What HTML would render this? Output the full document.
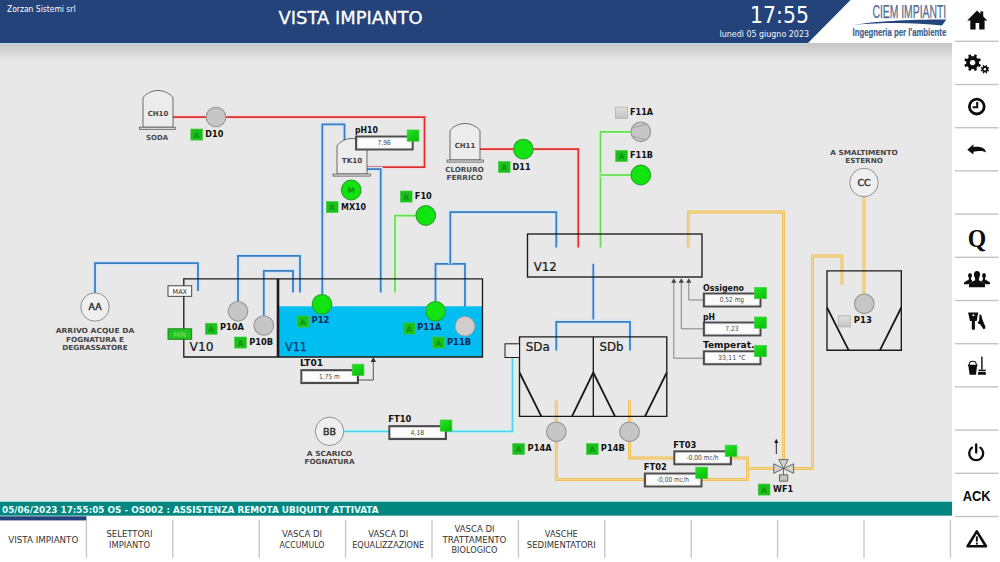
<!DOCTYPE html>
<html lang="it"><head><meta charset="utf-8"><title>VISTA IMPIANTO</title>
<style>
html,body{margin:0;padding:0;background:#e8e8e8;}
body{width:1000px;height:562px;overflow:hidden;position:relative;font-family:"DejaVu Sans","Liberation Sans",sans-serif;}
svg{position:absolute;left:0;top:0;display:block;}
svg text{font-family:"DejaVu Sans","Liberation Sans",sans-serif;}
</style></head><body>
<svg width="1000" height="562" viewBox="0 0 1000 562">
<defs>
<linearGradient id="strip" x1="0" y1="0" x2="0" y2="1"><stop offset="0" stop-color="#c5c5c5"/><stop offset="0.35" stop-color="#d2d2d2"/><stop offset="0.7" stop-color="#dfdfdf"/><stop offset="1" stop-color="#e8e8e8"/></linearGradient>
<linearGradient id="gg" x1="0" y1="0" x2="0.6" y2="1"><stop offset="0" stop-color="#1fe61f"/><stop offset="1" stop-color="#0cc20c"/></linearGradient>
<linearGradient id="gsq" x1="0" y1="0" x2="0" y2="1"><stop offset="0" stop-color="#e0e0e0"/><stop offset="1" stop-color="#c4c4c4"/></linearGradient>
</defs>
<rect width="1000" height="562" fill="#e8e8e8"/>

<rect x="0" y="43" width="952" height="19" fill="url(#strip)"/>
<rect x="800" y="0" width="200" height="43" fill="#fff"/>
<polygon points="0,0 850.5,0 808,43 0,43" fill="#24437a"/>
<rect x="0" y="43" width="808" height="1" fill="#c9d6e6"/>
<text x="7" y="12" font-size="9" fill="#fff" textLength="68.5" lengthAdjust="spacingAndGlyphs">Zorzan Sistemi srl</text>
<text x="278.5" y="24.3" font-size="17.8" fill="#fff" textLength="144" lengthAdjust="spacingAndGlyphs" stroke="#fff" stroke-width="0.3">VISTA IMPIANTO</text>
<text x="750" y="22.7" font-size="23.5" fill="#fff" textLength="59" lengthAdjust="spacingAndGlyphs">17:55</text>
<text x="809" y="37.3" font-size="8.2" fill="#f4f6fa" text-anchor="end" textLength="89.5" lengthAdjust="spacingAndGlyphs">lunedì 05 giugno 2023</text>
<text x="872.4" y="17.5" font-size="18.2" fill="#54698a" textLength="73.8" lengthAdjust="spacingAndGlyphs" style="font-family:'Liberation Sans',sans-serif" stroke="#54698a" stroke-width="0.25">CIEM IMPIANTI</text>
<path d="M854,24.8 C875,21.3 905,19.4 946.3,19.4 L942,25.6 C915,22.3 885,22.3 854,24.8 Z" fill="#24467c"/>
<text x="852.6" y="36" font-size="10.9" fill="#3b5f90" font-weight="bold" textLength="93.6" lengthAdjust="spacingAndGlyphs" style="font-family:'Liberation Sans',sans-serif" stroke="#3b5f90" stroke-width="0.2">Ingegneria per l&#x27;ambiente</text>
<path d="M173,117 H424.5 V167 H367" fill="none" stroke="#f8dcdc" stroke-width="4.4" stroke-linejoin="miter"/>
<path d="M173,117 H424.5 V167 H367" fill="none" stroke="#dc3030" stroke-width="1.75" stroke-linejoin="miter"/>
<path d="M480,149.2 H578.3 V247.5" fill="none" stroke="#f8dcdc" stroke-width="4.4" stroke-linejoin="miter"/>
<path d="M480,149.2 H578.3 V247.5" fill="none" stroke="#dc3030" stroke-width="1.75" stroke-linejoin="miter"/>
<path d="M322.3,295 V124.3 H344.5 V140" fill="none" stroke="#d3e6f9" stroke-width="4.4" stroke-linejoin="miter"/>
<path d="M322.3,295 V124.3 H344.5 V140" fill="none" stroke="#3a7dbe" stroke-width="1.75" stroke-linejoin="miter"/>
<path d="M367,169 H380.7 V292.5" fill="none" stroke="#d3e6f9" stroke-width="4.4" stroke-linejoin="miter"/>
<path d="M367,169 H380.7 V292.5" fill="none" stroke="#3a7dbe" stroke-width="1.75" stroke-linejoin="miter"/>
<path d="M95,293 V263.2 H198 V291" fill="none" stroke="#d3e6f9" stroke-width="4.4" stroke-linejoin="miter"/>
<path d="M95,293 V263.2 H198 V291" fill="none" stroke="#3a7dbe" stroke-width="1.75" stroke-linejoin="miter"/>
<path d="M238,302 V255.8 H300 V292.5" fill="none" stroke="#d3e6f9" stroke-width="4.4" stroke-linejoin="miter"/>
<path d="M238,302 V255.8 H300 V292.5" fill="none" stroke="#3a7dbe" stroke-width="1.75" stroke-linejoin="miter"/>
<path d="M263.8,316 V270.8 H293 V292.5" fill="none" stroke="#d3e6f9" stroke-width="4.4" stroke-linejoin="miter"/>
<path d="M263.8,316 V270.8 H293 V292.5" fill="none" stroke="#3a7dbe" stroke-width="1.75" stroke-linejoin="miter"/>
<path d="M435.5,302 V263.8 H465 V317" fill="none" stroke="#d3e6f9" stroke-width="4.4" stroke-linejoin="miter"/>
<path d="M435.5,302 V263.8 H465 V317" fill="none" stroke="#3a7dbe" stroke-width="1.75" stroke-linejoin="miter"/>
<path d="M450.3,263.8 V212 H556.3 V247.5" fill="none" stroke="#d3e6f9" stroke-width="4.4" stroke-linejoin="miter"/>
<path d="M450.3,263.8 V212 H556.3 V247.5" fill="none" stroke="#3a7dbe" stroke-width="1.75" stroke-linejoin="miter"/>
<path d="M593.3,263.8 V321.8" fill="none" stroke="#d3e6f9" stroke-width="4.4" stroke-linejoin="miter"/>
<path d="M593.3,263.8 V321.8" fill="none" stroke="#3a7dbe" stroke-width="1.75" stroke-linejoin="miter"/>
<path d="M556.3,350.5 V321.8 H630 V350.5" fill="none" stroke="#d3e6f9" stroke-width="4.4" stroke-linejoin="miter"/>
<path d="M556.3,350.5 V321.8 H630 V350.5" fill="none" stroke="#3a7dbe" stroke-width="1.75" stroke-linejoin="miter"/>
<path d="M416,215.5 H395 V292.5" fill="none" stroke="#dcf4d8" stroke-width="4.4" stroke-linejoin="miter"/>
<path d="M416,215.5 H395 V292.5" fill="none" stroke="#68dc56" stroke-width="1.75" stroke-linejoin="miter"/>
<path d="M631,131.8 H600.5 V247.5" fill="none" stroke="#dcf4d8" stroke-width="4.4" stroke-linejoin="miter"/>
<path d="M631,131.8 H600.5 V247.5" fill="none" stroke="#68dc56" stroke-width="1.75" stroke-linejoin="miter"/>
<path d="M631,175 H600.5" fill="none" stroke="#dcf4d8" stroke-width="4.4" stroke-linejoin="miter"/>
<path d="M631,175 H600.5" fill="none" stroke="#68dc56" stroke-width="1.75" stroke-linejoin="miter"/>
<path d="M688.3,247.5 V212 H783.5 V459.6" fill="none" stroke="#f0c056" stroke-width="2.9" stroke-linejoin="miter"/>
<path d="M688.3,247.5 V212 H783.5 V459.6" fill="none" stroke="#f6da94" stroke-width="1.1" stroke-linejoin="miter"/>
<path d="M864,196.5 V294" fill="none" stroke="#f0c056" stroke-width="2.9" stroke-linejoin="miter"/>
<path d="M864,196.5 V294" fill="none" stroke="#f6da94" stroke-width="1.1" stroke-linejoin="miter"/>
<path d="M842,285 V256 H812.5 V468.5 H793.6" fill="none" stroke="#f0c056" stroke-width="2.9" stroke-linejoin="miter"/>
<path d="M842,285 V256 H812.5 V468.5 H793.6" fill="none" stroke="#f6da94" stroke-width="1.1" stroke-linejoin="miter"/>
<path d="M556.3,400.5 V422" fill="none" stroke="#f0c056" stroke-width="2.9" stroke-linejoin="miter"/>
<path d="M556.3,400.5 V422" fill="none" stroke="#f6da94" stroke-width="1.1" stroke-linejoin="miter"/>
<path d="M629.5,400.5 V422" fill="none" stroke="#f0c056" stroke-width="2.9" stroke-linejoin="miter"/>
<path d="M629.5,400.5 V422" fill="none" stroke="#f6da94" stroke-width="1.1" stroke-linejoin="miter"/>
<path d="M556.3,441.5 V479.5 H747.5 V458 H629.5 V441.5" fill="none" stroke="#f0c056" stroke-width="2.9" stroke-linejoin="miter"/>
<path d="M556.3,441.5 V479.5 H747.5 V458 H629.5 V441.5" fill="none" stroke="#f6da94" stroke-width="1.1" stroke-linejoin="miter"/>
<path d="M747.5,468.5 H773.8" fill="none" stroke="#f0c056" stroke-width="2.9" stroke-linejoin="miter"/>
<path d="M747.5,468.5 H773.8" fill="none" stroke="#f6da94" stroke-width="1.1" stroke-linejoin="miter"/>
<path d="M343.8,431.3 H512.5 V357.5" fill="none" stroke="#d6f2f6" stroke-width="4.4" stroke-linejoin="miter"/>
<path d="M343.8,431.3 H512.5 V357.5" fill="none" stroke="#52d6e6" stroke-width="1.8" stroke-linejoin="miter"/>
<path d="M143,127.2 L143,97.5 A19.5,19.5 0 0 1 173,97.5 L173,127.2 Z" fill="#ececec" stroke="#4a4a4a" stroke-width="0.8"/>
<rect x="139.5" y="127.2" width="36.0" height="2.1" fill="#ddd" stroke="#4a4a4a" stroke-width="0.7"/>
<text x="158.0" y="115.64999999999999" font-size="7" fill="#444" font-weight="bold" text-anchor="middle" textLength="20.5" lengthAdjust="spacingAndGlyphs">CH10</text>
<text x="157" y="139.7" font-size="7" fill="#4a4a4a" font-weight="bold" text-anchor="middle" textLength="22" lengthAdjust="spacingAndGlyphs">SODA</text>
<path d="M337,174 L337,145.5 A19.5,19.5 0 0 1 367,145.5 L367,174 Z" fill="#ececec" stroke="#4a4a4a" stroke-width="0.8"/>
<rect x="333" y="174" width="37.5" height="2.1" fill="#ddd" stroke="#4a4a4a" stroke-width="0.7"/>
<text x="352.0" y="163.05" font-size="7" fill="#444" font-weight="bold" text-anchor="middle" textLength="20.5" lengthAdjust="spacingAndGlyphs">TK10</text>
<path d="M450,160 L450,130.5 A19.5,19.5 0 0 1 480,130.5 L480,160 Z" fill="#ececec" stroke="#4a4a4a" stroke-width="0.8"/>
<rect x="447" y="160" width="36.5" height="2.1" fill="#ddd" stroke="#4a4a4a" stroke-width="0.7"/>
<text x="465.0" y="147.65" font-size="7" fill="#444" font-weight="bold" text-anchor="middle" textLength="20.5" lengthAdjust="spacingAndGlyphs">CH11</text>
<text x="464.5" y="171.7" font-size="7" fill="#4a4a4a" font-weight="bold" text-anchor="middle" textLength="38.5" lengthAdjust="spacingAndGlyphs">CLORURO</text>
<text x="464.5" y="180.2" font-size="7" fill="#4a4a4a" font-weight="bold" text-anchor="middle" textLength="36" lengthAdjust="spacingAndGlyphs">FERRICO</text>
<rect x="279" y="306.3" width="203" height="50.5" fill="#00bdf2"/>
<path d="M183.8,357 V278.8 H482.5 V357 Z" fill="none" stroke="#1a1a1a" stroke-width="1.3"/>
<path d="M278,278.8 V357" stroke="#1a1a1a" stroke-width="2.6" fill="none"/>
<text x="189.5" y="351" font-size="12" fill="#151515" textLength="24" lengthAdjust="spacingAndGlyphs" stroke="#151515" stroke-width="0.2">V10</text>
<text x="285" y="351" font-size="12" fill="#0a3a72" textLength="22" lengthAdjust="spacingAndGlyphs" stroke="#0a3a72" stroke-width="0.25">V11</text>
<rect x="168" y="285.8" width="23.7" height="10.5" fill="#fafafa" stroke="#333" stroke-width="0.9"/>
<text x="179.8" y="293.6" font-size="6.5" fill="#222" text-anchor="middle">MAX</text>
<rect x="168" y="328.8" width="23.7" height="10.5" fill="#22c422" stroke="#157a15" stroke-width="0.9"/>
<text x="179.8" y="336.6" font-size="6.5" fill="#7be87b" text-anchor="middle">MIN</text>
<rect x="527.5" y="234" width="174.5" height="43" fill="none" stroke="#1a1a1a" stroke-width="1.35"/>
<text x="533.8" y="270.8" font-size="12" fill="#151515" textLength="23" lengthAdjust="spacingAndGlyphs" stroke="#151515" stroke-width="0.2">V12</text>
<path d="M673.8,282 V358.2 H703.5" fill="none" stroke="#777" stroke-width="0.9"/>
<path d="M673.8,278.3 l2.6,4.4 h-5.2 z" fill="#444"/>
<path d="M681.3,282 V328.8 H703.5" fill="none" stroke="#777" stroke-width="0.9"/>
<path d="M681.3,278.3 l2.6,4.4 h-5.2 z" fill="#444"/>
<path d="M688.8,282 V300 H703.5" fill="none" stroke="#777" stroke-width="0.9"/>
<path d="M688.8,278.3 l2.6,4.4 h-5.2 z" fill="#444"/>
<path d="M519.5,336.8 H666.8 V416.3 H519.5 Z M593.3,336.8 V416.3" fill="none" stroke="#1a1a1a" stroke-width="1.35"/>
<path d="M519.5,372.5 L541.3,416.3 M593.3,372.5 L572,416.3 M593.3,372.5 L615,416.3 M666.8,372.5 L645,416.3" fill="none" stroke="#1a1a1a" stroke-width="1.8"/>
<rect x="505" y="343.8" width="14.5" height="13.7" fill="#ebebeb" stroke="#1a1a1a" stroke-width="1"/>
<text x="525.8" y="351.3" font-size="12" fill="#151515" textLength="24" lengthAdjust="spacingAndGlyphs" stroke="#151515" stroke-width="0.2">SDa</text>
<text x="599.5" y="351.3" font-size="12" fill="#151515" textLength="24" lengthAdjust="spacingAndGlyphs" stroke="#151515" stroke-width="0.2">SDb</text>
<path d="M827,270.8 H901.3 V350.2 H827 Z" fill="none" stroke="#1a1a1a" stroke-width="1.35"/>
<path d="M827,307.5 L848.6,350.2 M901.3,307.5 L880,350.2" fill="none" stroke="#1a1a1a" stroke-width="1.8"/>
<circle cx="95" cy="307" r="14.2" fill="#efefef" stroke="#777" stroke-width="0.8"/>
<text x="95" y="310.2" font-size="8.6" fill="#2e2e2e" text-anchor="middle" textLength="13" lengthAdjust="spacingAndGlyphs" stroke="#2e2e2e" stroke-width="0.4">AA</text>
<circle cx="329.5" cy="431.3" r="14.2" fill="#efefef" stroke="#777" stroke-width="0.8"/>
<text x="329.5" y="434.5" font-size="8.6" fill="#2e2e2e" text-anchor="middle" textLength="13" lengthAdjust="spacingAndGlyphs" stroke="#2e2e2e" stroke-width="0.4">BB</text>
<circle cx="864" cy="182.5" r="14.2" fill="#efefef" stroke="#777" stroke-width="0.8"/>
<text x="864" y="185.7" font-size="8.6" fill="#2e2e2e" text-anchor="middle" textLength="13" lengthAdjust="spacingAndGlyphs" stroke="#2e2e2e" stroke-width="0.4">CC</text>
<text x="95" y="333.3" font-size="7" fill="#444" font-weight="bold" text-anchor="middle" textLength="78.5" lengthAdjust="spacingAndGlyphs">ARRIVO ACQUE DA</text>
<text x="95" y="341.7" font-size="7" fill="#444" font-weight="bold" text-anchor="middle" textLength="58" lengthAdjust="spacingAndGlyphs">FOGNATURA E</text>
<text x="95" y="350.1" font-size="7" fill="#444" font-weight="bold" text-anchor="middle" textLength="65.5" lengthAdjust="spacingAndGlyphs">DEGRASSATORE</text>
<text x="329.5" y="455.6" font-size="7" fill="#444" font-weight="bold" text-anchor="middle" textLength="45.5" lengthAdjust="spacingAndGlyphs">A SCARICO</text>
<text x="329.5" y="463.90000000000003" font-size="7" fill="#444" font-weight="bold" text-anchor="middle" textLength="50" lengthAdjust="spacingAndGlyphs">FOGNATURA</text>
<text x="864" y="155.0" font-size="7" fill="#444" font-weight="bold" text-anchor="middle" textLength="67.5" lengthAdjust="spacingAndGlyphs">A SMALTIMENTO</text>
<text x="864" y="163.2" font-size="7" fill="#444" font-weight="bold" text-anchor="middle" textLength="37.5" lengthAdjust="spacingAndGlyphs">ESTERNO</text>
<circle cx="216" cy="117" r="9.8" fill="#c6c6c6" stroke="#959595" stroke-width="1.1"/>
<circle cx="523.3" cy="149.2" r="9.8" fill="#12e412" stroke="#25a825" stroke-width="1.2"/>
<circle cx="351.2" cy="190" r="9.8" fill="#12e412" stroke="#25a825" stroke-width="1.2"/>
<text x="351.2" y="193" font-size="7.5" fill="#0f8f0f" font-weight="bold" text-anchor="middle">M</text>
<circle cx="425.8" cy="215.5" r="9.8" fill="#12e412" stroke="#25a825" stroke-width="1.2"/>
<circle cx="640.8" cy="131.8" r="9.8" fill="#c6c6c6" stroke="#959595" stroke-width="1.1"/>
<path d="M632.5,128 L646.5,123.8 M632.5,136 L646.5,140" stroke="#999" stroke-width="0.8" fill="none"/>
<circle cx="640.8" cy="175" r="9.8" fill="#12e412" stroke="#25a825" stroke-width="1.2"/>
<circle cx="238" cy="311.3" r="9.8" fill="#c6c6c6" stroke="#959595" stroke-width="1.1"/>
<circle cx="263.8" cy="325.5" r="9.8" fill="#c6c6c6" stroke="#959595" stroke-width="1.1"/>
<circle cx="322" cy="304.3" r="9.8" fill="#12e412" stroke="#25a825" stroke-width="1.2"/>
<circle cx="435.5" cy="311.3" r="9.8" fill="#12e412" stroke="#25a825" stroke-width="1.2"/>
<circle cx="465" cy="326.3" r="9.8" fill="#d2cccc" stroke="#a8a0a0" stroke-width="1"/>
<circle cx="864.3" cy="303.8" r="9.8" fill="#c6c6c6" stroke="#959595" stroke-width="1.1"/>
<circle cx="556.3" cy="431.8" r="9.8" fill="#c6c6c6" stroke="#959595" stroke-width="1.1"/>
<circle cx="629.5" cy="431.8" r="9.8" fill="#c6c6c6" stroke="#959595" stroke-width="1.1"/>
<rect x="190.8" y="129" width="11.8" height="11.1" fill="#1cc01c" stroke="#3fd03f" stroke-width="0.6"/>
<text x="196.70000000000002" y="137.5" font-size="7.4" font-weight="bold" fill="#0f920f" text-anchor="middle">A</text>
<text x="205.3" y="137" font-size="8.2" fill="#111" font-weight="bold" textLength="18" lengthAdjust="spacingAndGlyphs">D10</text>
<rect x="326.3" y="201.5" width="11.8" height="11.1" fill="#1cc01c" stroke="#3fd03f" stroke-width="0.6"/>
<text x="332.2" y="210.0" font-size="7.4" font-weight="bold" fill="#0f920f" text-anchor="middle">A</text>
<text x="341" y="210" font-size="8.2" fill="#111" font-weight="bold" textLength="25" lengthAdjust="spacingAndGlyphs">MX10</text>
<rect x="400.3" y="191" width="11.8" height="11.1" fill="#1cc01c" stroke="#3fd03f" stroke-width="0.6"/>
<text x="406.2" y="199.5" font-size="7.4" font-weight="bold" fill="#0f920f" text-anchor="middle">A</text>
<text x="414.8" y="199.3" font-size="8.2" fill="#111" font-weight="bold" textLength="17" lengthAdjust="spacingAndGlyphs">F10</text>
<rect x="498.3" y="161.5" width="11.8" height="11.1" fill="#1cc01c" stroke="#3fd03f" stroke-width="0.6"/>
<text x="504.2" y="170.0" font-size="7.4" font-weight="bold" fill="#0f920f" text-anchor="middle">A</text>
<text x="512.6" y="169.5" font-size="8.2" fill="#111" font-weight="bold" textLength="18" lengthAdjust="spacingAndGlyphs">D11</text>
<rect x="615.6" y="107.2" width="11.8" height="11.1" fill="url(#gsq)" stroke="#b0b0b0" stroke-width="0.8"/>
<text x="630" y="114.8" font-size="8.2" fill="#111" font-weight="bold" textLength="23" lengthAdjust="spacingAndGlyphs">F11A</text>
<rect x="615.6" y="150.5" width="11.8" height="11.1" fill="#1cc01c" stroke="#3fd03f" stroke-width="0.6"/>
<text x="621.5" y="159.0" font-size="7.4" font-weight="bold" fill="#0f920f" text-anchor="middle">A</text>
<text x="630" y="158.2" font-size="8.2" fill="#111" font-weight="bold" textLength="23" lengthAdjust="spacingAndGlyphs">F11B</text>
<rect x="205.3" y="323.2" width="11.8" height="11.1" fill="#1cc01c" stroke="#3fd03f" stroke-width="0.6"/>
<text x="211.20000000000002" y="331.7" font-size="7.4" font-weight="bold" fill="#0f920f" text-anchor="middle">A</text>
<text x="220" y="330.3" font-size="8.2" fill="#111" font-weight="bold" textLength="24" lengthAdjust="spacingAndGlyphs">P10A</text>
<rect x="234.6" y="337" width="11.8" height="11.1" fill="#1cc01c" stroke="#3fd03f" stroke-width="0.6"/>
<text x="240.5" y="345.5" font-size="7.4" font-weight="bold" fill="#0f920f" text-anchor="middle">A</text>
<text x="249.2" y="344.7" font-size="8.2" fill="#111" font-weight="bold" textLength="24" lengthAdjust="spacingAndGlyphs">P10B</text>
<rect x="297" y="316" width="11.8" height="11.1" fill="#1cc01c" stroke="#3fd03f" stroke-width="0.6"/>
<text x="302.9" y="324.5" font-size="7.4" font-weight="bold" fill="#0f920f" text-anchor="middle">A</text>
<text x="311.5" y="323.3" font-size="8.2" fill="#0a2a50" font-weight="bold" textLength="18" lengthAdjust="spacingAndGlyphs">P12</text>
<rect x="403.2" y="323" width="11.8" height="11.1" fill="#1cc01c" stroke="#3fd03f" stroke-width="0.6"/>
<text x="409.09999999999997" y="331.5" font-size="7.4" font-weight="bold" fill="#0f920f" text-anchor="middle">A</text>
<text x="417.3" y="330.3" font-size="8.2" fill="#0a2a50" font-weight="bold" textLength="24" lengthAdjust="spacingAndGlyphs">P11A</text>
<rect x="432.6" y="337" width="11.8" height="11.1" fill="#1cc01c" stroke="#3fd03f" stroke-width="0.6"/>
<text x="438.5" y="345.5" font-size="7.4" font-weight="bold" fill="#0f920f" text-anchor="middle">A</text>
<text x="447" y="344.7" font-size="8.2" fill="#0a2a50" font-weight="bold" textLength="24" lengthAdjust="spacingAndGlyphs">P11B</text>
<rect x="838.4" y="315.8" width="11.8" height="11.1" fill="url(#gsq)" stroke="#b0b0b0" stroke-width="0.8"/>
<text x="853.8" y="323.2" font-size="8.2" fill="#111" font-weight="bold" textLength="18" lengthAdjust="spacingAndGlyphs">P13</text>
<rect x="512.7" y="443.5" width="11.8" height="11.1" fill="#1cc01c" stroke="#3fd03f" stroke-width="0.6"/>
<text x="518.6" y="452.0" font-size="7.4" font-weight="bold" fill="#0f920f" text-anchor="middle">A</text>
<text x="527.6" y="451" font-size="8.2" fill="#111" font-weight="bold" textLength="24" lengthAdjust="spacingAndGlyphs">P14A</text>
<rect x="586.4" y="443.5" width="11.8" height="11.1" fill="#1cc01c" stroke="#3fd03f" stroke-width="0.6"/>
<text x="592.3" y="452.0" font-size="7.4" font-weight="bold" fill="#0f920f" text-anchor="middle">A</text>
<text x="600.8" y="451" font-size="8.2" fill="#111" font-weight="bold" textLength="24" lengthAdjust="spacingAndGlyphs">P14B</text>
<rect x="758.2" y="484" width="11.8" height="11.1" fill="#1cc01c" stroke="#3fd03f" stroke-width="0.6"/>
<text x="764.1" y="492.5" font-size="7.4" font-weight="bold" fill="#0f920f" text-anchor="middle">A</text>
<text x="773" y="491.5" font-size="8.2" fill="#111" font-weight="bold" textLength="20" lengthAdjust="spacingAndGlyphs">WF1</text>
<text x="355" y="133.2" font-size="8.6" fill="#111" font-weight="bold" textLength="23" lengthAdjust="spacingAndGlyphs">pH10</text>
<rect x="356.1" y="136.6" width="56.5" height="12.8" fill="#fbfbfb" stroke="#4a4a4a" stroke-width="2.1"/>
<rect x="357.4" y="137.9" width="53.9" height="10.2" fill="none" stroke="#d4d4d4" stroke-width="0.6"/>
<text x="384.1" y="145.4" font-size="7" fill="#484848" text-anchor="middle" textLength="13.3" lengthAdjust="spacingAndGlyphs">7,96</text>
<rect x="407.2" y="130" width="11.7" height="11.2" fill="url(#gg)" stroke="#3ec83e" stroke-width="0.7"/>
<text x="300" y="366.3" font-size="8.6" fill="#111" font-weight="bold" textLength="23" lengthAdjust="spacingAndGlyphs">LT01</text>
<rect x="301.4" y="370.2" width="56.5" height="12.8" fill="#fbfbfb" stroke="#4a4a4a" stroke-width="2.1"/>
<rect x="302.7" y="371.5" width="53.9" height="10.2" fill="none" stroke="#d4d4d4" stroke-width="0.6"/>
<text x="329.4" y="379.0" font-size="7" fill="#484848" text-anchor="middle" textLength="20.6" lengthAdjust="spacingAndGlyphs">1,75 m</text>
<rect x="352.2" y="364.2" width="11.7" height="11.2" fill="url(#gg)" stroke="#3ec83e" stroke-width="0.7"/>
<text x="388.3" y="422" font-size="8.6" fill="#111" font-weight="bold" textLength="23" lengthAdjust="spacingAndGlyphs">FT10</text>
<rect x="389.4" y="426.2" width="56.5" height="12.8" fill="#fbfbfb" stroke="#4a4a4a" stroke-width="2.1"/>
<rect x="390.7" y="427.5" width="53.9" height="10.2" fill="none" stroke="#d4d4d4" stroke-width="0.6"/>
<text x="417.4" y="435.0" font-size="7" fill="#484848" text-anchor="middle" textLength="13.6" lengthAdjust="spacingAndGlyphs">4,18</text>
<rect x="440.2" y="420" width="11.7" height="11.2" fill="url(#gg)" stroke="#3ec83e" stroke-width="0.7"/>
<text x="703" y="290.6" font-size="8.6" fill="#111" font-weight="bold" textLength="41" lengthAdjust="spacingAndGlyphs">Ossigeno</text>
<rect x="703.9" y="293.6" width="56.5" height="12.8" fill="#fbfbfb" stroke="#4a4a4a" stroke-width="2.1"/>
<rect x="705.2" y="294.9" width="53.9" height="10.2" fill="none" stroke="#d4d4d4" stroke-width="0.6"/>
<text x="731.9" y="302.4" font-size="7" fill="#484848" text-anchor="middle" textLength="24.3" lengthAdjust="spacingAndGlyphs">0,52 mg</text>
<rect x="754.6" y="287.5" width="11.7" height="11.2" fill="url(#gg)" stroke="#3ec83e" stroke-width="0.7"/>
<text x="703" y="319.6" font-size="8.6" fill="#111" font-weight="bold" textLength="12" lengthAdjust="spacingAndGlyphs">pH</text>
<rect x="703.9" y="322.6" width="56.5" height="12.8" fill="#fbfbfb" stroke="#4a4a4a" stroke-width="2.1"/>
<rect x="705.2" y="323.9" width="53.9" height="10.2" fill="none" stroke="#d4d4d4" stroke-width="0.6"/>
<text x="731.9" y="331.4" font-size="7" fill="#484848" text-anchor="middle" textLength="13.3" lengthAdjust="spacingAndGlyphs">7,23</text>
<rect x="754.6" y="317" width="11.7" height="11.2" fill="url(#gg)" stroke="#3ec83e" stroke-width="0.7"/>
<text x="703" y="348.3" font-size="8.6" fill="#111" font-weight="bold" textLength="51.5" lengthAdjust="spacingAndGlyphs">Temperat.</text>
<rect x="703.9" y="351.4" width="56.5" height="12.8" fill="#fbfbfb" stroke="#4a4a4a" stroke-width="2.1"/>
<rect x="705.2" y="352.7" width="53.9" height="10.2" fill="none" stroke="#d4d4d4" stroke-width="0.6"/>
<text x="731.9" y="360.2" font-size="7" fill="#484848" text-anchor="middle" textLength="27.7" lengthAdjust="spacingAndGlyphs">33,11 °C</text>
<rect x="754.6" y="345.5" width="11.7" height="11.2" fill="url(#gg)" stroke="#3ec83e" stroke-width="0.7"/>
<text x="673.3" y="447.6" font-size="8.6" fill="#111" font-weight="bold" textLength="23" lengthAdjust="spacingAndGlyphs">FT03</text>
<rect x="674.4" y="451.4" width="56.5" height="12.8" fill="#fbfbfb" stroke="#4a4a4a" stroke-width="2.1"/>
<rect x="675.7" y="452.7" width="53.9" height="10.2" fill="none" stroke="#d4d4d4" stroke-width="0.6"/>
<text x="702.4" y="460.2" font-size="7" fill="#484848" text-anchor="middle" textLength="32" lengthAdjust="spacingAndGlyphs">-0,00 mc/h</text>
<rect x="725.2" y="445.2" width="11.7" height="11.2" fill="url(#gg)" stroke="#3ec83e" stroke-width="0.7"/>
<text x="643.8" y="470.2" font-size="8.6" fill="#111" font-weight="bold" textLength="23" lengthAdjust="spacingAndGlyphs">FT02</text>
<rect x="644.9" y="473.6" width="56.5" height="12.8" fill="#fbfbfb" stroke="#4a4a4a" stroke-width="2.1"/>
<rect x="646.2" y="474.9" width="53.9" height="10.2" fill="none" stroke="#d4d4d4" stroke-width="0.6"/>
<text x="672.9" y="482.4" font-size="7" fill="#484848" text-anchor="middle" textLength="32" lengthAdjust="spacingAndGlyphs">-0,00 mc/h</text>
<rect x="695.8" y="467.2" width="11.7" height="11.2" fill="url(#gg)" stroke="#3ec83e" stroke-width="0.7"/>
<path d="M358.8,380 H373.3 V361.5" fill="none" stroke="#444" stroke-width="0.9"/>
<path d="M373.3,357.3 l2.8,4.6 h-5.6 z" fill="#333"/>
<g stroke="#5a5a5a" stroke-width="0.9" fill="#d2d2cc" stroke-linejoin="round">
<path d="M783.5,468.5 L773.8,463.8 V473.3 Z"/>
<path d="M783.5,468.5 L793.6,463.8 V473.3 Z"/>
<path d="M783.5,468.5 L778.8,459.6 H788.2 Z"/>
<path d="M783.5,468.5 V474.8" fill="none"/>
<rect x="779.5" y="474.8" width="8.2" height="6.4" fill="#c4c4bc"/>
</g>
<path d="M776.3,454 V442" stroke="#111" stroke-width="0.9" fill="none"/>
<path d="M776.3,438.8 l2,4.2 h-4 z" fill="#111"/>
<rect x="0" y="500.2" width="952" height="1.8" fill="#d0f0f0"/>
<rect x="0" y="501.8" width="952" height="14" fill="#03867f"/>
<text x="2" y="512.6" font-size="8.4" fill="#e8ffff" font-weight="bold" textLength="376.5" lengthAdjust="spacingAndGlyphs">05/06/2023 17:55:05 OS - OS002 : ASSISTENZA REMOTA UBIQUITY ATTIVATA</text>
<rect x="0" y="515.8" width="952" height="46.2" fill="#fff"/>
<rect x="0" y="516.3" width="86.5" height="4.1" fill="#24437a"/>
<rect x="85.7" y="520" width="1.4" height="38" fill="#c9c9c9"/>
<rect x="172.1" y="520" width="1.4" height="38" fill="#c9c9c9"/>
<rect x="258.5" y="520" width="1.4" height="38" fill="#c9c9c9"/>
<rect x="344.9" y="520" width="1.4" height="38" fill="#c9c9c9"/>
<rect x="431.3" y="520" width="1.4" height="38" fill="#c9c9c9"/>
<rect x="517.7" y="520" width="1.4" height="38" fill="#c9c9c9"/>
<rect x="604.1" y="520" width="1.4" height="38" fill="#c9c9c9"/>
<rect x="690.5" y="520" width="1.4" height="38" fill="#c9c9c9"/>
<rect x="776.9" y="520" width="1.4" height="38" fill="#c9c9c9"/>
<rect x="863.3" y="520" width="1.4" height="38" fill="#c9c9c9"/>
<rect x="949.7" y="520" width="1.4" height="38" fill="#c9c9c9"/>
<text x="43.3" y="542.6" font-size="8.4" fill="#333" text-anchor="middle" textLength="70" lengthAdjust="spacingAndGlyphs">VISTA IMPIANTO</text>
<text x="129.5" y="537.4" font-size="8.4" fill="#333" text-anchor="middle" textLength="46" lengthAdjust="spacingAndGlyphs">SELETTORI</text>
<text x="129.5" y="547.8" font-size="8.4" fill="#333" text-anchor="middle" textLength="41" lengthAdjust="spacingAndGlyphs">IMPIANTO</text>
<text x="302" y="537.4" font-size="8.4" fill="#333" text-anchor="middle" textLength="40" lengthAdjust="spacingAndGlyphs">VASCA DI</text>
<text x="302" y="547.8" font-size="8.4" fill="#333" text-anchor="middle" textLength="45" lengthAdjust="spacingAndGlyphs">ACCUMULO</text>
<text x="388.2" y="537.4" font-size="8.4" fill="#333" text-anchor="middle" textLength="40" lengthAdjust="spacingAndGlyphs">VASCA DI</text>
<text x="388.2" y="547.8" font-size="8.4" fill="#333" text-anchor="middle" textLength="72" lengthAdjust="spacingAndGlyphs">EQUALIZZAZIONE</text>
<text x="474.5" y="532.2" font-size="8.4" fill="#333" text-anchor="middle" textLength="40" lengthAdjust="spacingAndGlyphs">VASCA DI</text>
<text x="474.5" y="542.6" font-size="8.4" fill="#333" text-anchor="middle" textLength="64" lengthAdjust="spacingAndGlyphs">TRATTAMENTO</text>
<text x="474.5" y="553.0" font-size="8.4" fill="#333" text-anchor="middle" textLength="46" lengthAdjust="spacingAndGlyphs">BIOLOGICO</text>
<text x="561.3" y="537.4" font-size="8.4" fill="#333" text-anchor="middle" textLength="33" lengthAdjust="spacingAndGlyphs">VASCHE</text>
<text x="561.3" y="547.8" font-size="8.4" fill="#333" text-anchor="middle" textLength="69" lengthAdjust="spacingAndGlyphs">SEDIMENTATORI</text>
<rect x="952" y="0" width="48" height="562" fill="#fff"/>
<rect x="955" y="40.60" width="43.5" height="1.4" fill="#c4c4c4"/>
<rect x="955" y="83.80" width="43.5" height="1.4" fill="#c4c4c4"/>
<rect x="955" y="127.00" width="43.5" height="1.4" fill="#c4c4c4"/>
<rect x="955" y="170.20" width="43.5" height="1.4" fill="#c4c4c4"/>
<rect x="955" y="213.40" width="43.5" height="1.4" fill="#c4c4c4"/>
<rect x="955" y="256.60" width="43.5" height="1.4" fill="#c4c4c4"/>
<rect x="955" y="299.80" width="43.5" height="1.4" fill="#c4c4c4"/>
<rect x="955" y="343.00" width="43.5" height="1.4" fill="#c4c4c4"/>
<rect x="955" y="386.20" width="43.5" height="1.4" fill="#c4c4c4"/>
<rect x="955" y="429.40" width="43.5" height="1.4" fill="#c4c4c4"/>
<rect x="955" y="472.60" width="43.5" height="1.4" fill="#c4c4c4"/>
<rect x="955" y="515.80" width="43.5" height="1.4" fill="#c4c4c4"/>
<g fill="#0d0d0d"><path d="M977,10.6 L967.2,20.6 H970.3 V29.4 H975.6 V23 H979.2 V29.4 H984.6 V20.6 H987.4 Z"/><rect x="980.4" y="11.4" width="2.8" height="6"/></g>
<path d="M979.00,63.73 L980.95,64.65 L979.98,67.02 L977.94,66.30 L976.33,67.92 L977.06,69.96 L974.70,70.94 L973.76,69.00 L971.47,69.00 L970.55,70.95 L968.18,69.98 L968.90,67.94 L967.28,66.33 L965.24,67.06 L964.26,64.70 L966.20,63.76 L966.20,61.47 L964.25,60.55 L965.22,58.18 L967.26,58.90 L968.87,57.28 L968.14,55.24 L970.50,54.26 L971.44,56.20 L973.73,56.20 L974.65,54.25 L977.02,55.22 L976.30,57.26 L977.92,58.87 L979.96,58.14 L980.94,60.50 L979.00,61.44 Z M975.3000000000001,62.6 a2.7,2.7 0 1,0 -5.4,0 a2.7,2.7 0 1,0 5.4,0 Z" fill="#0d0d0d" fill-rule="evenodd"/>
<path d="M988.05,69.75 L989.17,70.25 L988.68,71.46 L987.53,71.02 L986.74,71.82 L987.18,72.96 L985.97,73.47 L985.47,72.35 L984.35,72.35 L983.85,73.47 L982.64,72.98 L983.08,71.83 L982.28,71.04 L981.14,71.48 L980.63,70.27 L981.75,69.77 L981.75,68.65 L980.63,68.15 L981.12,66.94 L982.27,67.38 L983.06,66.58 L982.62,65.44 L983.83,64.93 L984.33,66.05 L985.45,66.05 L985.95,64.93 L987.16,65.42 L986.72,66.57 L987.52,67.36 L988.66,66.92 L989.17,68.13 L988.05,68.63 Z M986.1999999999999,69.2 a1.3,1.3 0 1,0 -2.6,0 a1.3,1.3 0 1,0 2.6,0 Z" fill="#0d0d0d" fill-rule="evenodd"/>
<circle cx="976.8" cy="106.6" r="7.4" fill="none" stroke="#0d0d0d" stroke-width="2.8"/><path d="M977.2,102 V107.3 H972.6" fill="none" stroke="#0d0d0d" stroke-width="2.1"/>
<path d="M967.3,149.8 L973.4,144.3 V147 C980.5,146 985.6,148 986,152.6 C982.5,150.6 978,150.9 973.4,151.8 V154.6 Z" fill="#0d0d0d"/>
<g transform="translate(976.9,246.7) scale(0.93,1)">
<text x="0" y="0" font-size="25.5" fill="#0d0d0d" font-weight="bold" text-anchor="middle" style="font-family:'Liberation Serif',sans-serif">Q</text>
</g>
<g fill="#0d0d0d"><ellipse cx="970" cy="275.6" rx="1.95" ry="2.5"/><path d="M968.9,277.5 V279.6 L964.6,281.9 Q964,282.3 964,283.3 V284.3 H968.4 L972.6,281.2 L971.1,279.6 V277.5 Z"/><ellipse cx="984" cy="275.6" rx="1.95" ry="2.5"/><path d="M985.1,277.5 V279.6 L989.4,281.9 Q990,282.3 990,283.3 V284.3 H985.6 L981.4,281.2 L982.9,279.6 V277.5 Z"/><ellipse cx="977" cy="274.7" rx="3.05" ry="3.7"/><path d="M975.1,277 V280.2 L969.7,283.1 Q969,283.5 969,284.8 V287.2 H985 V284.8 Q985,283.5 984.3,283.1 L978.9,280.2 V277 Z"/></g>
<g fill="#0d0d0d"><path d="M968.1,312.5 H978.2 L976.7,321 H974.9 V329.3 L973.4,330 L971.8,329.3 V321 H970 Z"/><circle cx="973.4" cy="315.3" r="1.05" fill="#fff"/><path d="M979.6,314.2 L981.3,314.9 L982.4,319.6 L985.3,326.4 L985.3,328.6 L983.5,329.3 L980.3,324.6 L977.4,323 L979,320.8 Z"/></g>
<g fill="#0d0d0d"><path d="M967.9,364.8 H977.5 V366 H977 L976,374.7 H969.6 L968.4,366 H967.9 Z"/><path d="M969.1,365 C969.3,359.9 976.2,359.9 976.4,365" fill="none" stroke="#0d0d0d" stroke-width="1.1"/><path d="M981.2,357.5 L981.9,355.8 L982.6,357.5 V369.6 H981.2 Z"/><rect x="978.5" y="369.6" width="7.2" height="1.6"/><path d="M978.3,372.1 H985.6 L986.1,374.7 H977.7 Z"/></g>
<path d="M972,447.6 A7,7 0 1,0 980.4,447.6" fill="none" stroke="#0d0d0d" stroke-width="2.3" stroke-linecap="round"/><path d="M976.2,444.4 V452.6" stroke="#0d0d0d" stroke-width="2.3" stroke-linecap="round"/>
<text x="976.7" y="501" font-size="14.4" fill="#0d0d0d" font-weight="bold" text-anchor="middle" textLength="28" lengthAdjust="spacingAndGlyphs" style="font-family:'Liberation Sans',sans-serif">ACK</text>
<path d="M976.8,531.4 L986,546.2 H967.6 Z" fill="none" stroke="#0d0d0d" stroke-width="2.6" stroke-linejoin="round"/><rect x="975.9" y="536.4" width="1.9" height="5.2" fill="#0d0d0d"/><rect x="975.9" y="542.6" width="1.9" height="1.9" fill="#0d0d0d"/>
</svg></body></html>
